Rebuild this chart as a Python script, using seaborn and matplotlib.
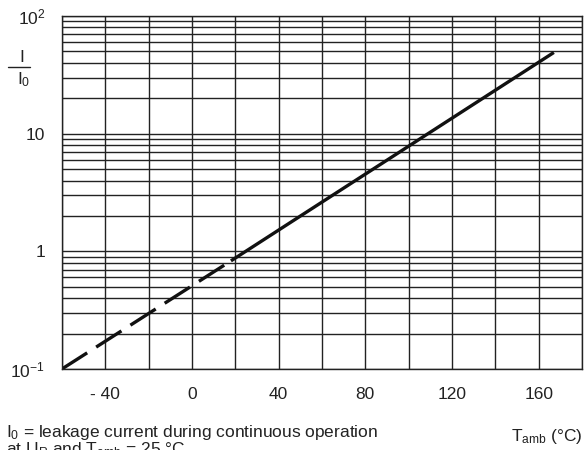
import matplotlib
matplotlib.use('Agg')
import matplotlib.pyplot as plt
import seaborn as sns
from matplotlib.lines import Line2D

# leakage current ratio vs ambient temperature
t_dash = [-60, 18]
ratio_dash = [0.1, 0.83]
t_solid = [18, 167]
ratio_solid = [0.83, 49]

xticks = [-40, 0, 40, 80, 120, 160]
xlabels = ['- 40', '0', '40', '80', '120', '160']
yticks = [0.1, 1, 10, 100]
ylabels = ['10$^{-1}$', '1', '10', '10$^{2}$']

sns.set_style('white')
plt.rcParams['font.family'] = ['Liberation Sans', 'DejaVu Sans']
plt.rcParams['mathtext.fontset'] = 'custom'
plt.rcParams['mathtext.rm'] = 'Liberation Sans'
plt.rcParams['mathtext.it'] = 'Liberation Sans'

fs = 12.5
fig = plt.figure(figsize=(5.84, 4.5), dpi=100)
ax = fig.add_axes([0.106, 0.18, 0.8906, 0.7844])

sns.lineplot(x=t_dash, y=ratio_dash, ax=ax, color='#111111', lw=2.4,
             linestyle=(0, (9, 3.2)), dash_capstyle='butt')
sns.lineplot(x=t_solid, y=ratio_solid, ax=ax, color='#111111', lw=2.4,
             solid_capstyle='butt')

ax.set_yscale('log')
ax.set_xlim(-60, 180)
ax.set_ylim(0.1, 100)

# grid every 20 degC and at every 1..9 of each decade
ax.set_xticks(xticks)
ax.set_xticklabels(xlabels)
ax.set_xticks(range(-60, 181, 20), minor=True)
ax.set_yticks(yticks)
ax.set_yticklabels(ylabels)
ax.yaxis.set_minor_locator(matplotlib.ticker.LogLocator(base=10, subs=range(2, 10)))
ax.yaxis.set_minor_formatter(matplotlib.ticker.NullFormatter())
ax.grid(True, which='both', color='#222222', lw=1.0)
ax.set_axisbelow(True)
ax.tick_params(which='both', length=0, labelsize=fs, colors='#222222')
ax.tick_params(axis='x', pad=13)
ax.tick_params(axis='y', pad=12)
for s in ax.spines.values():
    s.set_color('#222222')
    s.set_linewidth(1.0)
ax.set_xlabel('')
ax.set_ylabel('')

# y label as fraction I / I0
fig.text(22 / 584, 1 - 58 / 450, 'I', ha='center', va='center', fontsize=fs, color='#222222')
fig.add_artist(Line2D([8 / 584, 30 / 584], [1 - 67 / 450, 1 - 67 / 450],
                      color='#222222', lw=1.0))
fig.text(24 / 584, 1 - 80 / 450, 'I$_0$', ha='center', va='center', fontsize=fs, color='#222222')

# footnote and axis title
fig.text(6 / 584, 1 - 432 / 450, 'I$_0$ = leakage current during continuous operation',
         ha='left', va='center', fontsize=fs, color='#222222')
fig.text(6 / 584, 1 - 450 / 450, 'at U$_R$ and T$_{amb}$ = 25 °C',
         ha='left', va='center', fontsize=fs, color='#222222')
fig.text(583 / 584, 1 - 437 / 450, 'T$_{amb}$ (°C)', ha='right', va='center',
         fontsize=fs, color='#222222')

plt.savefig('out.png', dpi=100)
